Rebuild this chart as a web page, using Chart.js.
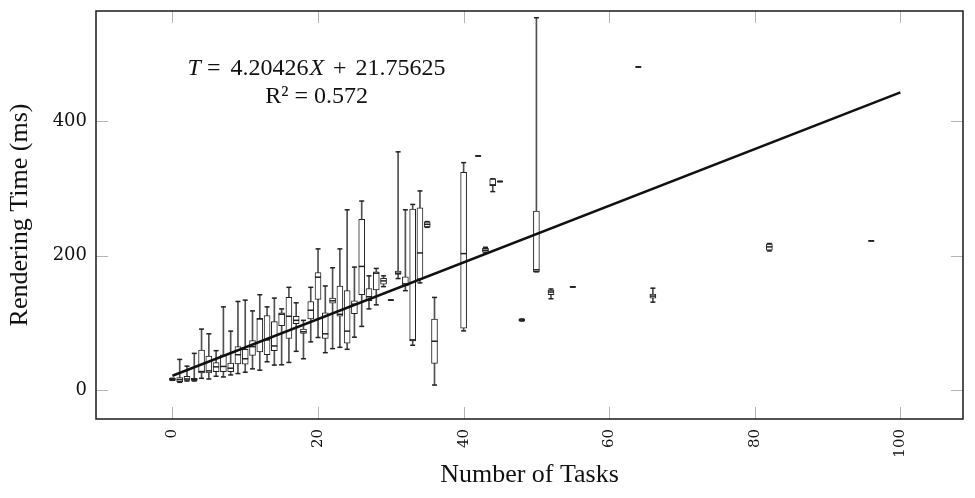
<!DOCTYPE html>
<html>
<head>
<meta charset="utf-8">
<script src="https://cdn.jsdelivr.net/npm/chart.js@4.4.1/dist/chart.umd.min.js"></script>
<style>
  html, body { margin: 0; padding: 0; background: #fff; }
</style>
</head>
<body>
<canvas id="chart" width="975" height="498"></canvas>
<script>
// Rendering time (ms) per number of tasks, five-number summary per box
const tasks     = [0, 1, 2, 3, 4, 5, 6, 7, 8, 9, 10, 11, 12, 13, 14, 15, 16, 17, 18, 19,
                   20, 21, 22, 23, 24, 25, 26, 27, 28, 29, 30, 31, 32, 33, 34, 35, 36, 40,
                   42, 43, 44, 45, 48, 50, 52, 55, 64, 66, 82, 96];
const whiskLow  = [15, 12, 14, 14, 18, 17, 21, 20, 23, 25, 27, 32, 30, 42.5, 37.6, 38, 41.5, 58, 47, 72,
                   78.5, 56, 62, 64, 61, 79, 95, 121, 127, 154, 134, 166, 148, 67, 159.6, 242, 8, 88.4,
                   348, 204, 295, 310, 103, 176, 136, 153.6, 480, 131, 207, 222];
const quart1    = [15, 13, 15, 15, 26, 26, 28, 28, 28, 39.5, 39, 52, 57, 53, 59, 96, 77, 99, 84.5, 106,
                   135, 77, 129.5, 110, 70, 114, 142, 133, 149, 157.6, 134, 172, 155, 73.6, 165, 242.5, 40, 92.4,
                   348, 205, 304, 310, 103.5, 176, 142, 153.6, 480, 137, 208, 222];
const medians   = [16.5, 16, 17, 16, 28, 29, 35, 35.6, 33, 53, 47, 65, 106, 75, 66, 113, 110, 104, 87, 119,
                   168, 84, 133, 113, 88, 128, 184, 139, 174, 162.5, 134, 174, 158, 75, 204, 246.5, 73, 203,
                   348, 208, 305, 310, 104.5, 179, 146, 153.6, 480, 140, 213, 222];
const quart3    = [18, 19, 21, 18, 60, 51, 41.5, 53, 40.5, 65, 61, 74, 107, 111, 102, 115, 138, 110, 91, 132,
                   175, 115, 137, 155, 148, 133, 254, 151, 176, 166.5, 134, 177, 168.5, 269, 271, 250, 106, 323.5,
                   348, 211, 314, 310, 105.5, 266, 149, 153.6, 480, 143, 217, 222];
const whiskHigh = [18, 46, 36, 55, 91, 84, 59, 124, 88, 132, 134, 118, 142, 124, 137, 121, 153, 130, 104, 153,
                   210, 155, 182, 210, 268, 183, 281, 170, 181, 170, 134, 354, 268, 276, 296, 250.5, 138, 338,
                   348, 212.4, 314, 310, 106, 553, 150.5, 153.6, 480, 151.7, 218, 222];

const xTicks = [0, 20, 40, 60, 80, 100];
const yTicks = [0, 200, 400];

// least-squares fit over the task counts
const slope = 4.20426;
const intercept = 21.75625;
const rSquared = 0.572;
const fitFrom = 0;
const fitTo = 100;

const serif = '"Liberation Serif", "Times New Roman", serif';
const tickFont = '"DejaVu Serif", serif';

const asPoints = vals => tasks.map((x, i) => ({ x: x, y: vals[i] }));
const asRanges = (lo, hi) => tasks.map((x, i) => ({ x: x, y: [lo[i], hi[i]] }));

// frame, inward tick marks and the fit equation
const axisDecor = {
    id: 'axisDecor',
    afterDraw(chart) {
        const { ctx, chartArea: a, scales } = chart;
        const len = 12;
        ctx.save();
        ctx.strokeStyle = '#b4b4b4';
        ctx.lineWidth = 1;
        ctx.beginPath();
        xTicks.forEach(v => {
            const px = Math.round(scales.x.getPixelForValue(v)) + 0.5;
            ctx.moveTo(px, a.bottom); ctx.lineTo(px, a.bottom - len);
            ctx.moveTo(px, a.top); ctx.lineTo(px, a.top + len);
        });
        yTicks.forEach(v => {
            const py = Math.round(scales.y.getPixelForValue(v)) + 0.5;
            ctx.moveTo(a.left, py); ctx.lineTo(a.left + len, py);
            ctx.moveTo(a.right, py); ctx.lineTo(a.right - len, py);
        });
        ctx.stroke();

        ctx.strokeStyle = '#1a1a1a';
        ctx.lineWidth = 1.5;
        ctx.strokeRect(a.left, a.top, a.right - a.left, a.bottom - a.top);

        // equation label, two centred lines
        const cx = scales.x.getPixelForValue(19.8);
        const line1 = [
            ['T', true, 6], ['=', false, 10], [slope.toFixed(5), false, 1],
            ['X', true, 9], ['+', false, 9], [intercept.toFixed(5), false, 0]
        ];
        ctx.fillStyle = '#111';
        ctx.textBaseline = 'alphabetic';
        ctx.textAlign = 'left';
        const fontFor = it => (it ? 'italic ' : '') + '24px ' + serif;
        let w = 0;
        line1.forEach(([t, it, gap]) => { ctx.font = fontFor(it); w += ctx.measureText(t).width + gap; });
        let x = cx - w / 2;
        const y1 = scales.y.getPixelForValue(468);
        line1.forEach(([t, it, gap]) => {
            ctx.font = fontFor(it);
            ctx.fillText(t, x, y1);
            x += ctx.measureText(t).width + gap;
        });
        ctx.font = fontFor(false);
        ctx.textAlign = 'center';
        ctx.fillText('R\u00B2 = ' + rSquared.toFixed(3), cx, scales.y.getPixelForValue(426));
        ctx.restore();
    }
};

new Chart(document.getElementById('chart'), {
    type: 'bar',
    data: {
        datasets: [
            {   // whiskers
                data: asRanges(whiskLow, whiskHigh),
                backgroundColor: '#505050',
                barThickness: 1,
                grouped: false,
                order: 5
            },
            {   // boxes
                data: asRanges(quart1, quart3),
                backgroundColor: '#ffffff',
                borderColor: '#222222',
                borderWidth: 1,
                borderSkipped: false,
                barThickness: 6,
                grouped: false,
                order: 4
            },
            {
                type: 'scatter',
                data: asPoints(whiskLow),
                pointStyle: 'line',
                radius: 2.5,
                borderColor: '#222222',
                borderWidth: 1.5,
                order: 3
            },
            {
                type: 'scatter',
                data: asPoints(whiskHigh),
                pointStyle: 'line',
                radius: 2.5,
                borderColor: '#222222',
                borderWidth: 1.5,
                order: 3
            },
            {   // medians
                type: 'scatter',
                data: asPoints(medians),
                pointStyle: 'line',
                radius: 3,
                borderColor: '#222222',
                borderWidth: 1.5,
                order: 2
            },
            {   // fitted line
                type: 'line',
                data: [fitFrom, fitTo].map(x => ({ x: x, y: slope * x + intercept })),
                borderColor: '#111111',
                borderWidth: 2.5,
                pointRadius: 0,
                order: 1
            }
        ]
    },
    options: {
        responsive: false,
        animation: false,
        layout: { padding: { top: 11, right: 12, bottom: 0, left: 0 } },
        plugins: {
            legend: { display: false },
            tooltip: { enabled: false }
        },
        scales: {
            x: {
                type: 'linear',
                min: -10.5,
                max: 108.6,
                offset: false,
                grid: { display: false, drawTicks: false },
                border: { display: false },
                afterBuildTicks: s => { s.ticks = xTicks.map(v => ({ value: v })); },
                afterFit: s => { s.height = 79; s.paddingLeft = 0; s.paddingRight = 0; },
                ticks: {
                    minRotation: 90,
                    maxRotation: 90,
                    padding: 10,
                    color: '#111',
                    font: { family: tickFont, size: 15 }
                },
                title: {
                    display: true,
                    text: 'Number of Tasks',
                    color: '#111',
                    font: { family: serif, size: 26, weight: 'normal' },
                    padding: { top: 0, bottom: 7 }
                }
            },
            y: {
                type: 'linear',
                min: -42.4,
                max: 563,
                grid: { display: false, drawTicks: false },
                border: { display: false },
                afterBuildTicks: s => { s.ticks = yTicks.map(v => ({ value: v })); },
                afterFit: s => { s.width = 96; s.paddingTop = 0; s.paddingBottom = 0; },
                ticks: {
                    padding: 9,
                    color: '#111',
                    font: { family: tickFont, size: 18 }
                },
                title: {
                    display: true,
                    text: 'Rendering Time (ms)',
                    color: '#111',
                    font: { family: serif, size: 26, weight: 'normal' },
                    padding: { top: 5, bottom: 0 }
                }
            }
        }
    },
    plugins: [axisDecor]
});
</script>
</body>
</html>
